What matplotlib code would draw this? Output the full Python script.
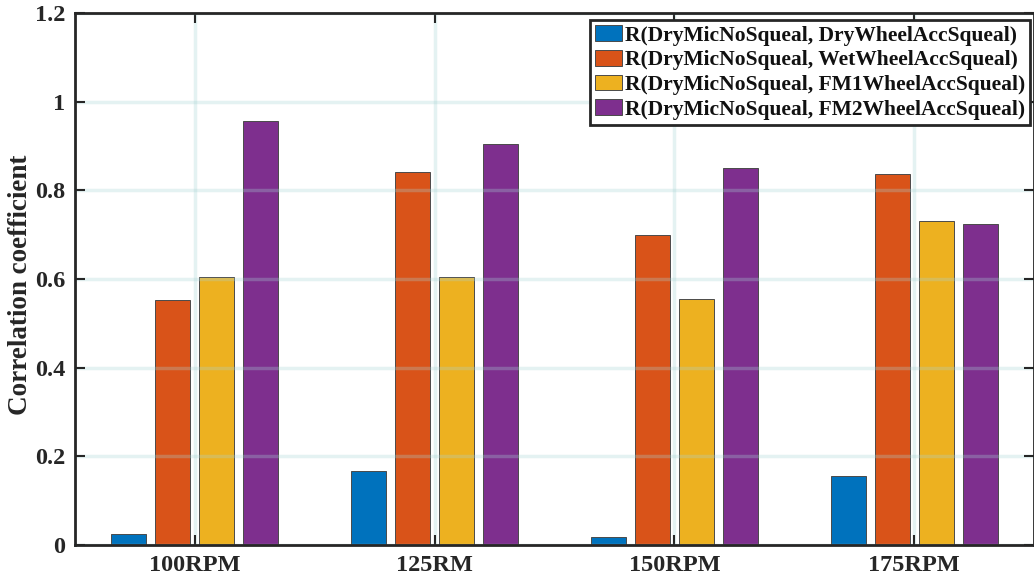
import numpy as np
import matplotlib
matplotlib.use("Agg")
import matplotlib.pyplot as plt

plt.rcParams['font.family'] = ['Liberation Serif', 'DejaVu Serif']
plt.rcParams['font.weight'] = 'bold'

groups = ["100RPM", "125RM", "150RPM", "175RPM"]
series = ["R(DryMicNoSqueal, DryWheelAccSqueal)",
          "R(DryMicNoSqueal, WetWheelAccSqueal)",
          "R(DryMicNoSqueal, FM1WheelAccSqueal)",
          "R(DryMicNoSqueal, FM2WheelAccSqueal)"]
dry = [0.024, 0.168, 0.017, 0.155]
wet = [0.553, 0.842, 0.699, 0.836]
fm1 = [0.605, 0.605, 0.555, 0.730]
fm2 = [0.956, 0.905, 0.850, 0.725]
colors = ["#0072BD", "#D95319", "#EDB120", "#7E2F8E"]

fig = plt.figure(figsize=(10.34, 5.8), dpi=100)
ax = fig.add_axes([0.0725, 0.0603, 0.9275, 0.9173])

x = np.arange(1, len(groups) + 1)
offsets = [-0.275, -0.092, 0.092, 0.275]
width = 0.146
for vals, off, col, lab in zip([dry, wet, fm1, fm2], offsets, colors, series):
    ax.bar(x + off, vals, width, color=col, edgecolor="#4a4a4a", linewidth=0.7,
           label=lab, zorder=1)

ax.set_xlim(0.5, 4.5)
ax.set_ylim(0, 1.2)
ax.set_xticks(x)
ax.set_xticklabels(groups)
ax.set_yticks([0, 0.2, 0.4, 0.6, 0.8, 1.0, 1.2])
ax.set_yticklabels(["0", "0.2", "0.4", "0.6", "0.8", "1", "1.2"])
ax.tick_params(direction="in", length=7, width=1.5, labelsize=17.5, top=True, right=True,
               color="#262626", pad=7)
for lbl in ax.get_xticklabels() + ax.get_yticklabels():
    lbl.set_fontweight("bold")
    lbl.set_color("#262626")
for s in ax.spines.values():
    s.set_linewidth(2)
    s.set_color("#262626")
    s.set_zorder(5)

ax.set_axisbelow(False)
ax.grid(True, color="#a8d4d4", alpha=0.3, linewidth=2.5, zorder=3)

ax.set_ylabel("Correlation coefficient", fontsize=19.5, fontweight="bold", color="#262626")
ax.yaxis.set_label_coords(-0.044, 0.49)

leg = ax.legend(loc="upper right", bbox_to_anchor=(0.996, 0.987), fontsize=15.5,
                frameon=True, fancybox=False, edgecolor="#262626", framealpha=1,
                borderpad=0.25, labelspacing=0.2, handlelength=1.25, handleheight=0.75,
                handletextpad=0.1, borderaxespad=0)
leg.get_frame().set_linewidth(2)
for t in leg.get_texts():
    t.set_fontweight("bold")
    t.set_color("#111111")
leg.set_zorder(10)

plt.savefig("out.png", dpi=100)
